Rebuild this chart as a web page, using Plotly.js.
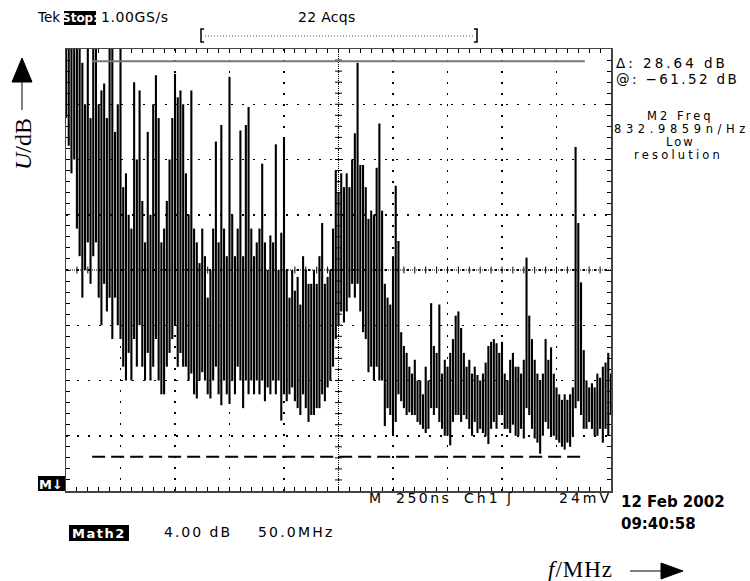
<!DOCTYPE html>
<html>
<head>
<meta charset="utf-8">
<script src="https://cdn.plot.ly/plotly-3.0.1.min.js"></script>
<style>html,body{margin:0;padding:0;background:#fff;}#chart{width:750px;height:581px;}</style>
</head>
<body>
<div id="chart"></div>
<script>
const freqStepMHz = 2.5;           // spectrum column spacing
const xRangeMHz = [0, 500];        // 10 div x 50 MHz
const yRangeDb = [-64, -32];       // 8 div x 4 dB
const cursorUpperDb = -32.88;      // @ -61.52 dB + delta 28.64 dB
const cursorLowerDb = -61.52;
const cursorSpanMHz = [24, 476];

// per-column maximum of the FFT trace (dB)
const peakMaxDb = [
 -30,-30,-30,-31,-30,-30,-33,-36,-30,-37,-30,-30,-36,-35,-34.5,-37,-30,-30,-38,-36,-30,
 -42,-41,-44,-45,-34.4,-40,-35,-43,-46,-38,-44,-36,-33.9,-37,-46,-45,-43,-40,-37,-33.8,
 -35.5,-35,-36,-41,-44,-35,-45,-46,-47.5,-45,
 -47,-50,-48,-45,-38.7,-46,-37.5,-45,-47,-34,-44,-47,-45,-37.9,-47,-37.5,-36.2,-45,-47,-46,
 -45,-40.3,-46,-48,-45.5,-46,-38.9,-48,-45.3,-38.4,-48,-50,-48,-49.5,-48.5,-50.5,-47,-48,-49,-49,
 -48,-49,-47,-44.6,-49,-48.5,-48,-45,-40.8,-42.4,-41,-42,-41,-42,-40,-38.1,-33,-40.4,-40.4,-42,
 -44.3,-43.7,-44,-40.6,-37.4,-43.7,-49,-50,-50.5,-47,-41.9,-45.9,-52.5,-53.5,-54,
 -55,-55.5,-54.5,-56,-56,-57,-55,-56,-50.4,-53.5,-54,-50.5,-55.5,-54.5,-55,-54,-53,-51.3,-51,-52.2,
 -54,-55,-54.5,-55.5,-55,-55.6,-56,-55.5,-54.7,-53.5,-53.2,-53,-53.3,-54,-53.2,-55.5,-56,-54.5,-54,-55,
 -55,-55.5,-54.5,-47.1,-51.3,-53,-54.5,-55.5,-56,-55.5,-53,-54.5,-53.6,-55.5,-56.5,-57,-57.4,-57,-57.4,-57,
 -56.5,-39.1,-44.6,-48.9,-53.8,-56,-56.5,-56.2,-56.5,-55.5,-55.8,-55,-54.7,-54,-55.5
];
// per-column minimum of the FFT trace (dB)
const peakMinDb = [
 -37,-39,-41,-40,-45,-47,-50,-48,-46,-49,-47,-46,-50,-52,-49,-51,-50,-53,-50,-52,-53,
 -55,-56,-54,-56,-53,-55,-52,-55,-56,-54,-56,-55,-53,-56,-57,-57,-55,-54,-53,-52,
 -55,-54,-55,-55,-56,-55.5,-57,-57.3,-56,-55.4,
 -56,-57,-57.3,-56,-55,-57,-57.8,-56,-57,-57.7,-56,-57,-55,-56,-58,-56,-57,-56,-57,-56,
 -57,-56,-57.5,-56.5,-57,-56,-57,-56,-58.9,-57,-57.5,-57,-56.5,-57.5,-58,-58.5,-57,-58,-59,-58.5,
 -58.5,-58,-58,-57,-57.5,-56.5,-56,-55,-53,-52,-51,-51.8,-51,-50,-49,-50,-49,-51,-52.5,-53,
 -55.4,-55,-56,-55,-56,-56,-59.3,-58,-58.5,-60,-59,-57,-57.5,-58,-58.5,
 -58.3,-58.5,-58.5,-59,-59.2,-59.5,-59.8,-59.5,-58,-58.5,-58,-59,-59.5,-60,-60,-60.7,-59,-58.5,-58.5,-59,
 -58.5,-58.8,-59.5,-60,-59,-59.8,-59.5,-59.8,-60,-60.6,-59.5,-59,-59.5,-58.5,-58.5,-59.5,-59.5,-59.8,-59.2,-60,
 -60,-59.5,-60.2,-58,-58.5,-59.5,-60.2,-60.5,-61.3,-60,-59,-59.5,-60,-60,-60.3,-60.5,-60.8,-61,-60.5,-60.8,
 -60,-58,-57.5,-58.5,-59.5,-59.5,-59,-59.5,-60,-60,-59.5,-60.5,-59.5,-60,-58.5
];

// ---- build trace as peak-detect vertical bars (one min..max bar per column) ----
const xs = [], ys = [];
for (let i = 0; i < peakMaxDb.length; i++) {
  const f = i * freqStepMHz;
  xs.push(f, f, null);
  ys.push(peakMinDb[i], peakMaxDb[i], null);
}

// ---- page geometry helpers ----
const W = 750, H = 581, L = 66, R = 139, T = 49, B = 90;
const pw = W - L - R, ph = H - T - B;
const px = v => (v - L) / pw;
const py = v => (H - B - v) / ph;

const shapes = [];
// centre cross (dense dotted) with small ticks
const xc = (xRangeMHz[0] + xRangeMHz[1]) / 2, yc = (yRangeDb[0] + yRangeDb[1]) / 2;
shapes.push({type:'line', xref:'x', yref:'y', x0:xc, x1:xc, y0:yRangeDb[0], y1:yRangeDb[1], line:{color:'#000', width:1, dash:'1px,1px'}, layer:'below'});
shapes.push({type:'line', xref:'x', yref:'y', y0:yc, y1:yc, x0:xRangeMHz[0], x1:xRangeMHz[1], line:{color:'#000', width:1, dash:'1px,1px'}, layer:'below'});
for (let k = 1; k < 40; k++) {
  const y = yRangeDb[0] + k * 0.8;
  shapes.push({type:'line', xref:'x', yref:'y', x0:xc-3.2, x1:xc+3.2, y0:y, y1:y, line:{color:'#000', width:1}, layer:'below'});
}
for (let k = 1; k < 50; k++) {
  const x = k * 10;
  shapes.push({type:'line', xref:'x', yref:'y', x0:x, x1:x, y0:yc-0.25, y1:yc+0.25, line:{color:'#000', width:1}, layer:'below'});
}
// cursors
shapes.push({type:'line', xref:'x', yref:'y', x0:cursorSpanMHz[0], x1:cursorSpanMHz[1], y0:cursorUpperDb, y1:cursorUpperDb, line:{color:'#777', width:2}});
shapes.push({type:'line', xref:'x', yref:'y', x0:cursorSpanMHz[0], x1:cursorSpanMHz[1], y0:cursorLowerDb, y1:cursorLowerDb, line:{color:'#000', width:2, dash:'13px,6px'}});

// black label boxes
function box(x0, y0, x1, y1) {
  shapes.push({type:'rect', xref:'paper', yref:'paper', x0:px(x0), x1:px(x1), y0:py(y1), y1:py(y0), fillcolor:'#000', line:{width:0}});
}
box(64, 11, 96, 25);    // Stop:
box(38, 476, 65, 491);  // M↓
box(69, 525, 129, 541); // Math2

// bracket
function pathPx(pts, close) {
  return pts.map((p, i) => (i ? 'L' : 'M') + px(p[0]) + ',' + py(p[1])).join(' ') + (close ? ' Z' : '');
}
shapes.push({type:'path', xref:'paper', yref:'paper', path:pathPx([[204,29],[201,29],[201,42],[204,42]]), line:{color:'#000', width:1.5}});
shapes.push({type:'path', xref:'paper', yref:'paper', path:pathPx([[474,29],[477,29],[477,42],[474,42]]), line:{color:'#000', width:1.5}});
shapes.push({type:'line', xref:'paper', yref:'paper', x0:px(205), x1:px(473), y0:py(36), y1:py(36), line:{color:'#555', width:1, dash:'1px,2px'}});

// axis arrows
shapes.push({type:'line', xref:'paper', yref:'paper', x0:px(22), x1:px(22), y0:py(110), y1:py(80), line:{color:'#000', width:1}});
shapes.push({type:'path', xref:'paper', yref:'paper', path:pathPx([[22,58],[12,82],[32,82]], true), fillcolor:'#000', line:{color:'#000', width:1}});
shapes.push({type:'line', xref:'paper', yref:'paper', x0:px(630), x1:px(663), y0:py(571), y1:py(571), line:{color:'#000', width:1}});
shapes.push({type:'path', xref:'paper', yref:'paper', path:pathPx([[683,571],[661,563],[661,579]], true), fillcolor:'#000', line:{color:'#000', width:1}});

// ---- texts ----
const SANS = 'DejaVu Sans', SERIF = 'Liberation Serif';
function sp(t, s) { return s ? '<span style="letter-spacing:' + s + 'px">' + t + '</span>' : t; }
function txt(text, x, y, o) {
  o = o || {};
  return {xref:'paper', yref:'paper', x:px(x), y:py(y), xanchor:o.xa || 'left', yanchor:'middle',
    text:sp(text, o.ls), showarrow:false, borderpad:0, textangle:o.ang || 0,
    font:{family:o.fam || SANS, size:o.size || 14, color:o.color || '#000', weight:o.bold ? 700 : 400}};
}
const annotations = [
  txt('Tek', 36, 17, {size:13.5}),
  txt('Stop:', 80, 18, {xa:'center', color:'#fff', bold:true, size:12}),
  txt('1.00GS/s', 100, 17, {ls:0.6}),
  txt('22 Acqs', 297, 17, {ls:0.3}),
  txt('\u0394: 28.64 dB', 615, 63, {ls:3, size:13.5}),
  txt('@: \u221261.52 dB', 615, 79, {ls:2.4, size:13.5}),
  txt('M2 Freq', 680, 116, {xa:'center', ls:3, size:11.5}),
  txt('832.9859n/Hz', 613, 129, {ls:4.6, size:11.5}),
  txt('Low', 680, 142, {xa:'center', ls:2, size:11.5}),
  txt('resolution', 678, 155, {xa:'center', ls:3.2, size:11.5}),
  txt('M\u2193', 51, 484, {xa:'center', color:'#fff', bold:true, size:13}),
  txt('M', 368, 498),
  txt('250ns', 395, 498, {ls:2.5}),
  txt('Ch1', 463, 498, {ls:3}),
  txt('\u0283', 505, 498),
  txt('24mV', 558, 498, {ls:3}),
  txt('12 Feb 2002', 620, 502, {bold:true, size:15}),
  txt('09:40:58', 620, 524, {bold:true, size:15}),
  txt('Math2', 99, 533, {xa:'center', color:'#fff', bold:true, size:13, ls:1.5}),
  txt('4.00 dB', 163, 532, {ls:2}),
  txt('50.0MHz', 257, 532, {ls:2.2}),
  txt('<i>U</i>/dB', 23, 144, {xa:'center', fam:SERIF, size:24, ang:-90}),
  txt('<i>f</i>/MHz', 547, 569, {fam:SERIF, size:23, ls:1})
];

const axisCommon = {
  showticklabels:false, showgrid:true, gridcolor:'#000', gridwidth:1.5, griddash:'2px,9px',
  ticks:'inside', ticklen:4, tickcolor:'#000', tickwidth:1,
  showline:true, linecolor:'#444', linewidth:1.5, mirror:'allticks', zeroline:false, fixedrange:true
};
const layout = {
  width:W, height:H, margin:{l:L, r:R, t:T, b:B}, paper_bgcolor:'#fff', plot_bgcolor:'#fff',
  showlegend:false,
  xaxis:Object.assign({}, axisCommon, {range:xRangeMHz, tick0:0, dtick:50,
    minor:{dtick:10, ticks:'inside', ticklen:4, tickcolor:'#000', showgrid:false}}),
  yaxis:Object.assign({}, axisCommon, {range:yRangeDb, tick0:-64, dtick:4,
    minor:{dtick:0.8, ticks:'inside', ticklen:4, tickcolor:'#000', showgrid:false}}),
  shapes:shapes, annotations:annotations
};
const data = [{x:xs, y:ys, type:'scatter', mode:'lines', connectgaps:false, line:{color:'#000', width:2.1}, hoverinfo:'skip'}];
Plotly.newPlot('chart', data, layout, {staticPlot:true, displayModeBar:false});
</script>
</body>
</html>
